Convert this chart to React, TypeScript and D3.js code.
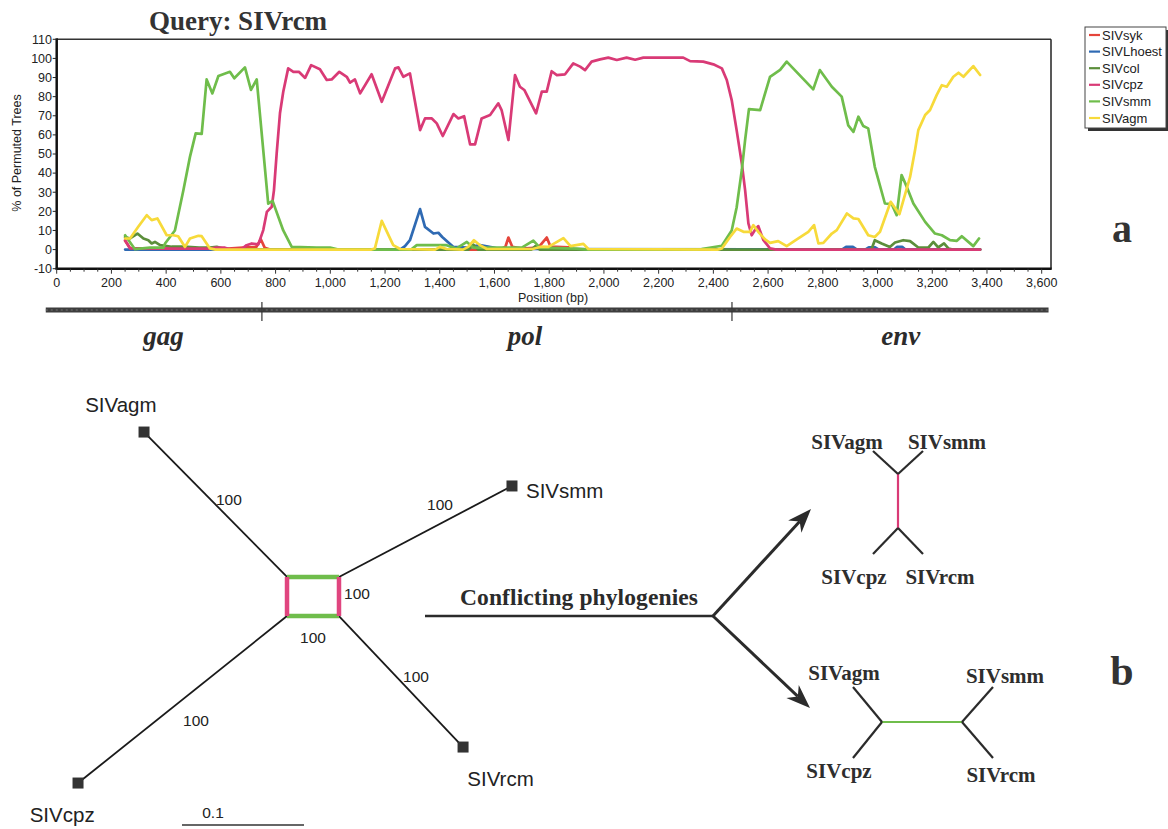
import React from 'react';
import * as d3 from 'd3';

type Pt = [number, number];

// bootscan values: [position (bp), % of permuted trees]
const sykValues: Pt[] = [[250,4.6],[268,0.8],[400,0.5],[560,0.5],[600,0.3],[680,1],[730,1.5],[746,5.4],[760,1],[780,0],[1620,0],[1640,1.5],[1651,6.3],[1665,1.5],[1700,0.5],[1760,1],[1791,6.3],[1805,1.5],[1870,1.2],[1885,0],[3375,0]];
const lhoestValues: Pt[] = [[250,0],[1255,0],[1273,1.8],[1291,4.9],[1328,21.2],[1346,11.9],[1377,8.4],[1395,8.8],[1409,6.6],[1450,1.4],[1500,1],[1547,2.3],[1596,1.1],[1620,0.3],[2870,0],[2885,1.4],[2910,1.4],[2925,0],[2955,0],[2968,1.2],[2990,1.2],[3005,0],[3060,0],[3072,1.4],[3090,1.4],[3102,0],[3375,0]];
const colValues: Pt[] = [[250,6.6],[268,5.8],[295,8.4],[317,5.8],[335,4.9],[347,3.2],[359,4],[378,2.3],[420,1.5],[463,1.5],[520,1],[560,1],[585,1.4],[620,0],[1505,0],[1523,2.5],[1540,0],[1735,0],[1750,1.8],[1765,0],[2970,0],[2979,0.6],[2990,4.9],[3015,3.2],[3045,1.4],[3064,3.7],[3094,4.9],[3119,4.4],[3149,1.1],[3186,1.1],[3204,4],[3222,1.1],[3243,3.2],[3259,0.6],[3275,0],[3375,0]];
const cpzValues: Pt[] = [[250,4.9],[268,0.6],[400,0.5],[560,0.5],[584,1],[615,1],[630,0.3],[676,0.3],[694,2.3],[713,3.2],[737,2.7],[755,10.2],[768,19.7],[786,22.4],[794,31],[804,50.3],[816,71.3],[828,82.6],[846,94.8],[865,93],[885,93],[908,89.8],[930,96.5],[962,94.3],[987,88.7],[1005,89],[1033,93],[1060,90.4],[1072,87.3],[1090,89],[1109,81.7],[1151,91.7],[1188,77.3],[1237,94.8],[1249,95.3],[1267,90.4],[1291,92.2],[1328,62.5],[1346,68.6],[1371,68.6],[1389,66],[1411,59.4],[1450,70.9],[1468,68.6],[1489,69.8],[1511,55],[1529,55],[1553,68.6],[1584,70.4],[1614,76.5],[1626,73],[1651,57.3],[1675,91.3],[1693,85.2],[1709,83.5],[1752,71.3],[1773,82.6],[1791,82.6],[1809,93.3],[1828,91.3],[1858,91.7],[1888,97.4],[1913,95.7],[1931,93.9],[1955,98.3],[1986,99.5],[2016,100.4],[2047,99.2],[2083,100.4],[2114,99.3],[2144,100.4],[2290,100.4],[2315,98.6],[2363,98.3],[2400,96.9],[2431,94.8],[2449,88.7],[2467,78.2],[2485,62.5],[2504,45],[2516,31.1],[2528,13.7],[2540,7.5],[2552,10.2],[2564,12.3],[2583,4.9],[2607,0.6],[2630,0],[3375,0]];
const smmValues: Pt[] = [[250,7.5],[286,0.2],[341,1],[390,1],[396,3.2],[432,10],[463,31],[487,48.5],[508,60.8],[530,60.5],[548,89],[569,81.7],[591,90.8],[633,93],[649,89.6],[688,95.3],[710,83.5],[731,89],[773,24],[789,25.5],[828,10],[859,1.4],[950,1],[999,1],[1030,0],[1295,0],[1316,2.3],[1425,2.3],[1460,0.5],[1499,4],[1523,1],[1700,1],[1742,4.7],[1766,1],[1900,0.5],[1940,0],[2340,0],[2357,0.3],[2431,2],[2467,10],[2485,22],[2504,41.6],[2516,57.3],[2530,73.5],[2571,73],[2607,90.4],[2644,94],[2668,98.3],[2765,83.8],[2789,93.9],[2833,85.2],[2869,80],[2893,65],[2912,61.6],[2930,69.5],[2948,64.6],[2966,63.4],[2990,43.3],[3027,24.1],[3052,23.8],[3070,18],[3088,39],[3107,32.8],[3131,24.1],[3174,14.5],[3210,8.4],[3235,7.5],[3265,4.9],[3290,4.6],[3308,7],[3350,1.8],[3371,5.8]];
const agmValues: Pt[] = [[250,5.8],[268,5.8],[298,11.9],[329,18],[347,15.4],[368,16.3],[402,7.5],[426,7.5],[444,7],[469,1.4],[487,5.8],[518,7.2],[530,7],[560,0.6],[580,0],[1150,0],[1163,0.6],[1188,15],[1230,2.3],[1255,0.3],[1383,0],[1401,1.4],[1425,0.3],[1485,0],[1504,1.4],[1525,4.9],[1547,2.3],[1572,0.3],[1740,0.3],[1770,1.5],[1797,1.4],[1852,6],[1878,1.8],[1925,3],[1943,0.3],[2415,0],[2431,0.6],[2461,6.6],[2485,11],[2510,9.3],[2534,9.3],[2546,12.8],[2564,9.3],[2589,5.3],[2607,3.5],[2637,4.4],[2668,1.8],[2705,5.3],[2747,9.3],[2768,12.8],[2784,3.2],[2802,3.5],[2833,8.4],[2851,10.2],[2888,18.9],[2912,16.3],[2930,16],[2966,7.5],[2990,6.6],[3009,9.3],[3048,25],[3080,18.5],[3119,38],[3137,52],[3149,62.5],[3174,70.4],[3192,73],[3216,80.8],[3235,86],[3253,85.2],[3277,90.4],[3296,92.5],[3314,90.4],[3350,96],[3375,91.3]];

const seriesNames = ['SIVsyk', 'SIVLhoest', 'SIVcol', 'SIVcpz', 'SIVsmm', 'SIVagm'];
const seriesColors = ['#e5443a', '#2f6ab3', '#5b8e3a', '#d93a76', '#6fbd4b', '#f7da3a'];
const seriesValues = [sykValues, lhoestValues, colValues, cpzValues, smmValues, agmValues];

const xTickValues = [0, 200, 400, 600, 800, 1000, 1200, 1400, 1600, 1800, 2000, 2200, 2400, 2600, 2800, 3000, 3200, 3400, 3600];
const yTickValues = [-10, 0, 10, 20, 30, 40, 50, 60, 70, 80, 90, 100, 110];

// genome map under the plot (bp)
const geneBarExtent = [-40, 3625];
const geneBoundaries = [750, 2468];
const geneLabels = [{ name: 'gag', pos: 390 }, { name: 'pol', pos: 1712 }, { name: 'env', pos: 3085 }];

// split network, in substitutions/site relative to the centre of the box
const boxHalf = { w: 0.0213, h: 0.016 };
const leaves = [
  { name: 'SIVagm', x: -0.1385, y: -0.1348, corner: [-1, -1], lx: -0.019, ly: -0.0164, anchor: 'middle' },
  { name: 'SIVsmm', x: 0.1631, y: -0.0906, corner: [1, -1], lx: 0.0115, ly: 0.0102, anchor: 'start' },
  { name: 'SIVrcm', x: 0.1230, y: 0.1234, corner: [1, 1], lx: 0.0035, ly: 0.032, anchor: 'start' },
  { name: 'SIVcpz', x: -0.1926, y: 0.1529, corner: [-1, 1], lx: -0.0130, ly: 0.0320, anchor: 'middle' },
];
const supportLabels = [
  { text: '100', x: -0.0689, y: -0.0795 },
  { text: '100', x: 0.1041, y: -0.0750 },
  { text: '100', x: 0.0361, y: -0.0020 },
  { text: '100', x: 0.0, y: 0.0340 },
  { text: '100', x: 0.0844, y: 0.0660 },
  { text: '100', x: -0.0959, y: 0.1016 },
];
const scaleBarLength = 0.1;

const W = 1168;
const H = 829;
const sans = '"Liberation Sans", Arial, sans-serif';
const serif = '"Liberation Serif", "Times New Roman", serif';

const x = d3.scaleLinear().domain([0, 3600]).range([56.7, 1041.7]);
const y = d3.scaleLinear().domain([-10, 110]).range([268.7, 39.3]);
const plotRight = 1051;

const line = d3.line<Pt>().x(d => x(d[0])).y(d => y(d[1]));

// network scale: 0.1 units = 122 px
const treeScale = d3.scaleLinear().domain([0, 0.1]).range([0, 122]);
const cx = 313;
const cy = 596.5;
const tx = (v: number) => cx + treeScale(v);
const ty = (v: number) => cy + treeScale(v);

const fmt = d3.format(',');

function Arrow({ x1, y1, x2, y2 }: { x1: number; y1: number; x2: number; y2: number }) {
  const ang = Math.atan2(y2 - y1, x2 - x1);
  const len = 24;
  const half = 9;
  const bx = x2 - len * Math.cos(ang);
  const by = y2 - len * Math.sin(ang);
  const px = -Math.sin(ang) * half;
  const py = Math.cos(ang) * half;
  const ix = x2 - len * 0.7 * Math.cos(ang);
  const iy = y2 - len * 0.7 * Math.sin(ang);
  return (
    <g>
      <line x1={x1} y1={y1} x2={ix} y2={iy} stroke="#2b2b2b" strokeWidth={3} />
      <path d={`M${x2},${y2} L${bx + px},${by + py} L${ix},${iy} L${bx - px},${by - py} Z`} fill="#2b2b2b" />
    </g>
  );
}

function SmallTree({ kind, cxp, cyp }: { kind: 'pink' | 'green'; cxp: number; cyp: number }) {
  const s = 25;
  const lab = { fontFamily: serif, fontWeight: 700, fontSize: 21, fill: '#2e2e2e' } as const;
  if (kind === 'pink') {
    const top = cyp - 27;
    const bot = cyp + 27;
    return (
      <g stroke="#2b2b2b" strokeWidth={2.2} fill="none">
        <line x1={cxp} y1={top} x2={cxp} y2={bot} stroke="#d93a76" />
        <line x1={cxp} y1={top} x2={cxp - s} y2={top - 23} />
        <line x1={cxp} y1={top} x2={cxp + s} y2={top - 23} />
        <line x1={cxp} y1={bot} x2={cxp - s} y2={bot + 26} />
        <line x1={cxp} y1={bot} x2={cxp + s} y2={bot + 26} />
        <g stroke="none">
          <text x={cxp - 51} y={top - 25} textAnchor="middle" style={lab}>SIVagm</text>
          <text x={cxp + 49} y={top - 25} textAnchor="middle" style={lab}>SIVsmm</text>
          <text x={cxp - 44} y={bot + 56} textAnchor="middle" style={lab}>SIVcpz</text>
          <text x={cxp + 42} y={bot + 56} textAnchor="middle" style={lab}>SIVrcm</text>
        </g>
      </g>
    );
  }
  const left = cxp - 40;
  const right = cxp + 40;
  return (
    <g stroke="#2b2b2b" strokeWidth={2.2} fill="none">
      <line x1={left} y1={cyp} x2={right} y2={cyp} stroke="#6fbd4b" />
      <line x1={left} y1={cyp} x2={left - 29} y2={cyp - 35} />
      <line x1={left} y1={cyp} x2={left - 29} y2={cyp + 36} />
      <line x1={right} y1={cyp} x2={right + 31} y2={cyp - 35} />
      <line x1={right} y1={cyp} x2={right + 31} y2={cyp + 36} />
      <g stroke="none">
        <text x={left - 38} y={cyp - 42} textAnchor="middle" style={lab}>SIVagm</text>
        <text x={right + 43} y={cyp - 39} textAnchor="middle" style={lab}>SIVsmm</text>
        <text x={left - 43} y={cyp + 56} textAnchor="middle" style={lab}>SIVcpz</text>
        <text x={right + 39} y={cyp + 60} textAnchor="middle" style={lab}>SIVrcm</text>
      </g>
    </g>
  );
}

export default function App() {
  const minorTicks = d3.range(0, 3601, 50);
  const corner = (c: number[]) => [tx(c[0] * boxHalf.w), ty(c[1] * boxHalf.h)];
  const [blX, blY] = corner([-1, 1]);
  const [trX, trY] = corner([1, -1]);

  return (
    <svg width={W} height={H} style={{ position: 'absolute', left: 0, top: 0, background: '#fff' }}>
      {/* title */}
      <text x={238} y={30} textAnchor="middle" style={{ fontFamily: serif, fontWeight: 700, fontSize: 27, fill: '#333' }}>
        Query: SIVrcm
      </text>

      {/* plot frame */}
      <line x1={x(0)} y1={y(110)} x2={plotRight} y2={y(110)} stroke="#333" strokeWidth={1.5} />
      <line x1={plotRight} y1={y(110)} x2={plotRight} y2={y(-10)} stroke="#222" strokeWidth={1.5} />
      <line x1={x(0)} y1={y(110) - 1} x2={x(0)} y2={y(-10) + 1} stroke="#111" strokeWidth={2.5} />
      <line x1={x(0) - 1} y1={y(-10)} x2={plotRight + 0.7} y2={y(-10)} stroke="#111" strokeWidth={2.5} />

      {/* y ticks */}
      {yTickValues.map(v => (
        <g key={'y' + v}>
          <line x1={x(0) - 4} x2={x(0)} y1={y(v)} y2={y(v)} stroke="#222" strokeWidth={1} />
          <text x={52} y={y(v)} dy="0.35em" textAnchor="end" style={{ fontFamily: sans, fontSize: 12.5, fill: '#222' }}>
            {v}
          </text>
        </g>
      ))}
      {/* x ticks */}
      {minorTicks.map(v => (
        <line key={'m' + v} x1={x(v)} x2={x(v)} y1={y(-10)} y2={y(-10) + (v % 200 === 0 ? 5 : 3)} stroke="#333" strokeWidth={1} />
      ))}
      {xTickValues.map(v => (
        <text key={'x' + v} x={x(v)} y={287} textAnchor="middle" style={{ fontFamily: sans, fontSize: 12.5, fill: '#222' }}>
          {fmt(v)}
        </text>
      ))}
      <text x={553} y={302} textAnchor="middle" style={{ fontFamily: sans, fontSize: 12.5, fill: '#222' }}>
        Position (bp)
      </text>
      <text transform={`translate(21,153) rotate(-90)`} textAnchor="middle" style={{ fontFamily: sans, fontSize: 12.5, fill: '#222' }}>
        % of Permuted Trees
      </text>

      {/* series */}
      <g fill="none" strokeWidth={2.7} strokeLinejoin="round" strokeLinecap="round">
        {seriesValues.map((vals, i) => (
          <path key={seriesNames[i]} d={line(vals) || ''} stroke={seriesColors[i]} />
        ))}
      </g>

      {/* legend */}
      <rect x={1088} y={30} width={81} height={101} fill="#333" />
      <rect x={1085} y={27} width={81} height={101} fill="#fff" stroke="#444" strokeWidth={1} />
      {seriesNames.map((n, i) => (
        <g key={'lg' + n}>
          <line x1={1089} x2={1100} y1={35 + i * 16.6} y2={35 + i * 16.6} stroke={seriesColors[i]} strokeWidth={2.2} />
          <text x={1102} y={35 + i * 16.6} dy="0.36em" style={{ fontFamily: sans, fontSize: 13, fill: '#222' }}>
            {n}
          </text>
        </g>
      ))}

      <text x={1122} y={242} textAnchor="middle" style={{ fontFamily: serif, fontWeight: 700, fontSize: 40, fill: '#333' }}>a</text>

      {/* genome map */}
      <line x1={x(geneBarExtent[0])} x2={x(geneBarExtent[1])} y1={310} y2={310} stroke="#3d3d3d" strokeWidth={5} />
      <line x1={x(geneBarExtent[0])} x2={x(geneBarExtent[1])} y1={310} y2={310} stroke="#777" strokeWidth={1} strokeDasharray="2 3" />
      {geneBoundaries.map(b => (
        <line key={'gb' + b} x1={x(b)} x2={x(b)} y1={302} y2={321} stroke="#333" strokeWidth={1.2} />
      ))}
      {geneLabels.map(g => (
        <text key={g.name} x={x(g.pos)} y={345} textAnchor="middle"
          style={{ fontFamily: serif, fontWeight: 700, fontStyle: 'italic', fontSize: 27, fill: '#2b2b2b' }}>
          {g.name}
        </text>
      ))}

      {/* split network */}
      <g stroke="#1a1a1a" strokeWidth={1.8}>
        {leaves.map(l => {
          const [bx, by] = corner(l.corner);
          return <line key={'br' + l.name} x1={bx} y1={by} x2={tx(l.x)} y2={ty(l.y)} />;
        })}
      </g>
      <g strokeWidth={4.5}>
        <line x1={blX} y1={trY} x2={trX} y2={trY} stroke="#6fbd4b" />
        <line x1={blX} y1={blY} x2={trX} y2={blY} stroke="#6fbd4b" />
        <line x1={blX} y1={trY} x2={blX} y2={blY} stroke="#e0457f" />
        <line x1={trX} y1={trY} x2={trX} y2={blY} stroke="#e0457f" />
      </g>
      {leaves.map(l => (
        <g key={'lf' + l.name}>
          <rect x={tx(l.x) - 5.5} y={ty(l.y) - 5.5} width={11} height={11} fill="#333" />
          <text x={tx(l.x + l.lx)} y={ty(l.y + l.ly)} textAnchor={l.anchor as any}
            style={{ fontFamily: sans, fontSize: 20.5, fill: '#222' }}>
            {l.name}
          </text>
        </g>
      ))}
      {supportLabels.map((s, i) => (
        <text key={'sp' + i} x={tx(s.x)} y={ty(s.y)} dy="0.35em" textAnchor="middle"
          style={{ fontFamily: sans, fontSize: 15.5, fill: '#222' }}>
          {s.text}
        </text>
      ))}
      {/* scale bar */}
      <line x1={182} x2={182 + treeScale(scaleBarLength)} y1={825} y2={825} stroke="#333" strokeWidth={1.5} />
      <text x={213} y={818} textAnchor="middle" style={{ fontFamily: sans, fontSize: 15.5, fill: '#222' }}>
        {scaleBarLength}
      </text>

      {/* conflicting phylogenies */}
      <text x={460} y={605} textLength={238} style={{ fontFamily: serif, fontWeight: 700, fontSize: 23.5, fill: '#2b2b2b' }}>
        Conflicting phylogenies
      </text>
      <line x1={425} x2={713} y1={616} y2={616} stroke="#2b2b2b" strokeWidth={2.5} />
      <Arrow x1={713} y1={616} x2={811} y2={509} />
      <Arrow x1={713} y1={616} x2={810} y2={708} />

      <SmallTree kind="pink" cxp={898} cyp={501} />
      <SmallTree kind="green" cxp={922} cyp={722} />

      <text x={1122} y={685} textAnchor="middle" style={{ fontFamily: serif, fontWeight: 700, fontSize: 42, fill: '#333' }}>b</text>
    </svg>
  );
}
